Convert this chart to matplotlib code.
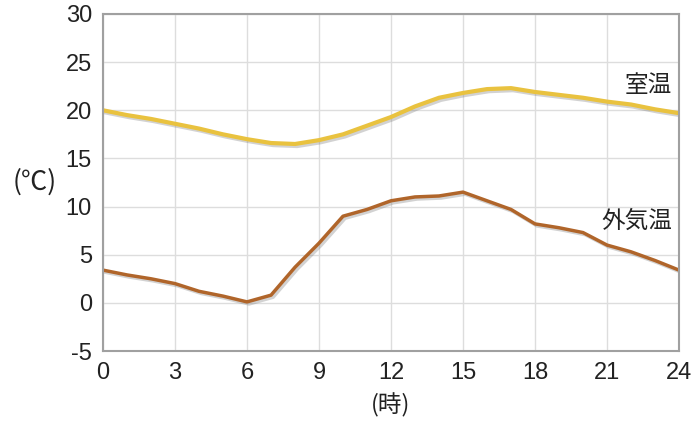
"""Indoor vs outdoor temperature over one day."""

import matplotlib
matplotlib.use("Agg")
import matplotlib.pyplot as plt
import matplotlib.patheffects as pe

plt.rcParams["font.family"] = ["Noto Sans CJK JP", "DejaVu Sans"]
plt.rcParams["axes.unicode_minus"] = False

# Data
hours = list(range(25))
room_temp = [20.0, 19.5, 19.1, 18.6, 18.1, 17.5, 17.0, 16.6, 16.5, 16.9,
             17.5, 18.4, 19.3, 20.4, 21.3, 21.8, 22.2, 22.3, 21.9, 21.6,
             21.3, 20.9, 20.6, 20.1, 19.7]
outside_temp = [3.4, 2.9, 2.5, 2.0, 1.2, 0.7, 0.1, 0.8, 3.7, 6.2,
                9.0, 9.7, 10.6, 11.0, 11.1, 11.5, 10.6, 9.7, 8.2, 7.8,
                7.3, 6.0, 5.3, 4.4, 3.4]
xticks = list(range(0, 25, 3))
yticks = list(range(-5, 31, 5))

fig = plt.figure(figsize=(6.98, 4.29), dpi=100)
ax = fig.add_axes([0.1476, 0.1818, 0.8252, 0.7856])

shadow = [pe.SimpleLineShadow(offset=(1.5, -1.5), shadow_color="gray", alpha=0.35), pe.Normal()]
ax.plot(hours, room_temp, color="#E9C23F", linewidth=3, path_effects=shadow)
ax.plot(hours, outside_temp, color="#B0652A", linewidth=2.5, path_effects=shadow)

ax.set_xlim(0, 24)
ax.set_ylim(-5, 30)
ax.set_xticks(xticks)
ax.set_yticks(yticks)
ax.tick_params(length=0, labelsize=17, colors="#222222", pad=8)
for lbl in ax.get_xticklabels() + ax.get_yticklabels():
    lbl.set_fontfamily("Liberation Sans")
ax.grid(color="#dddddd", linewidth=1)
ax.set_axisbelow(True)
for side in ax.spines.values():
    side.set_color("#a0a0a0")
    side.set_linewidth(1.5)

fig.text(0.05, 0.575, "(℃)", fontsize=19, ha="center", va="center", color="#222222")
ax.text(12, -10.6, "(時)", fontsize=17, ha="center", va="center", color="#222222")
ax.text(23.7, 22.6, "室温", fontsize=17, ha="right", va="center", color="#222222")
ax.text(23.7, 8.5, "外気温", fontsize=17, ha="right", va="center", color="#222222")

fig.savefig("out.png", dpi=100)
